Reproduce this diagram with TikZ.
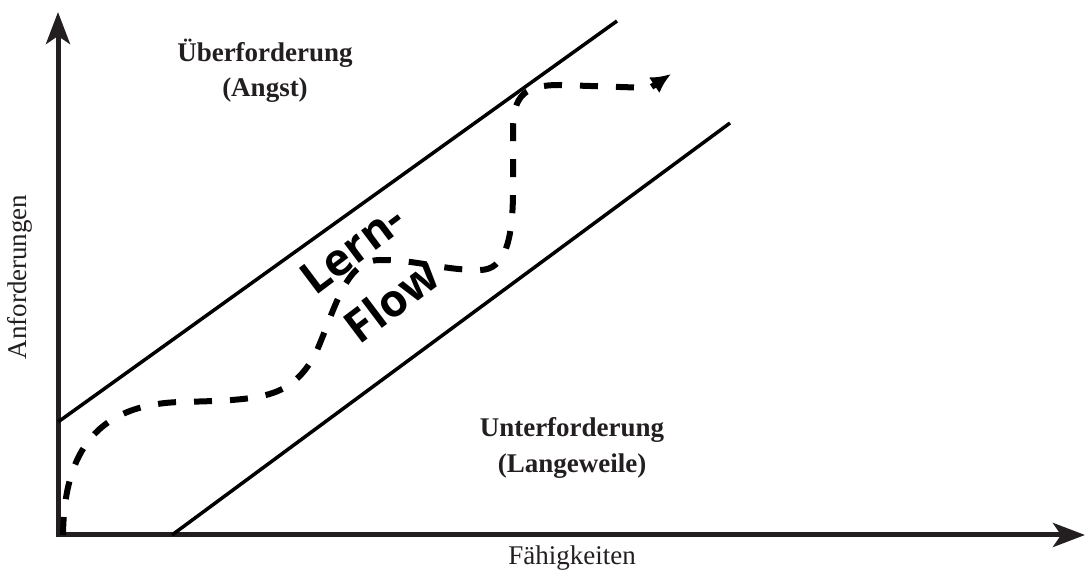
\documentclass[tikz,border=0pt]{standalone}
\usepackage{fontspec}
\setmainfont{Liberation Serif}
\newfontfamily\flowfont{Open Sans}
\usetikzlibrary{arrows.meta, positioning}
\definecolor{axisgray}{HTML}{231F20}
\tikzset{
    axis/.style = {line width=5pt, color=axisgray, line join=miter,
        {Stealth[length=32pt, width=24pt, inset=8pt]}-{Stealth[length=32pt, width=24pt, inset=8pt]}},
    zone/.style = {line width=3.5pt},
    flowpath/.style = {line width=6pt, dash pattern=on 18pt off 18pt, -{Latex[length=20pt, width=19pt]}},
    region/.style = {font=\fontsize{27}{36}\selectfont\bfseries, text=axisgray, anchor=base, inner sep=0pt},
    axlabel/.style = {font=\fontsize{27}{36}\selectfont, text=axisgray, anchor=base, inner sep=0pt},
    flowlabel/.style = {font=\flowfont\fontsize{45}{66}\selectfont\bfseries, align=center, rotate=37, inner sep=0pt},
}

\begin{document}
\begin{tikzpicture}[x=1pt, y=1pt]
    \useasboundingbox (0,0) rectangle (1092,570);
    % axes
    \coordinate (origin) at (58,35);
    \coordinate (ytop) at (58,558);
    \coordinate (xend) at (1085,35);
    \draw[axis] (ytop) -- (origin) -- (xend);
    \node (yname) [axlabel, rotate=90] at (27,293) {Anforderungen};
    \node (xname) [axlabel] at (572,5) {Fähigkeiten};
    % flow channel
    \coordinate (up1) at (58,148);
    \coordinate (up2) at (617,549);
    \coordinate (lo1) at (172,35);
    \coordinate (lo2) at (730,447);
    \draw[zone] (up1) -- (up2);
    \draw[zone] (lo1) -- (lo2);
    % regions
    \node (ueber) [region] at (265,508) {Überforderung};
    \node (angst) [region] at (265,473) {(Angst)};
    \node (unter) [region] at (572,133) {Unterforderung};
    \node (langeweile) [region] at (572,97) {(Langeweile)};
    \node (flow) [flowlabel] at (372,295) {Lern-\\Flow};
    % learning path
    \coordinate (start) at (63,35);
    \coordinate (goal) at (671,496);
    \draw[flowpath] (start) .. controls (64,110) and (90,165) .. (180,168)
        .. controls (265,170) and (290,172) .. (315,215)
        .. controls (335,260) and (345,310) .. (380,310)
        .. controls (420,310) and (440,300) .. (480,300)
        .. controls (505,300) and (513,330) .. (513,380)
        -- (513,440)
        .. controls (513,475) and (525,485) .. (560,485)
        -- (650,482) -- (goal);
\end{tikzpicture}
\end{document}
